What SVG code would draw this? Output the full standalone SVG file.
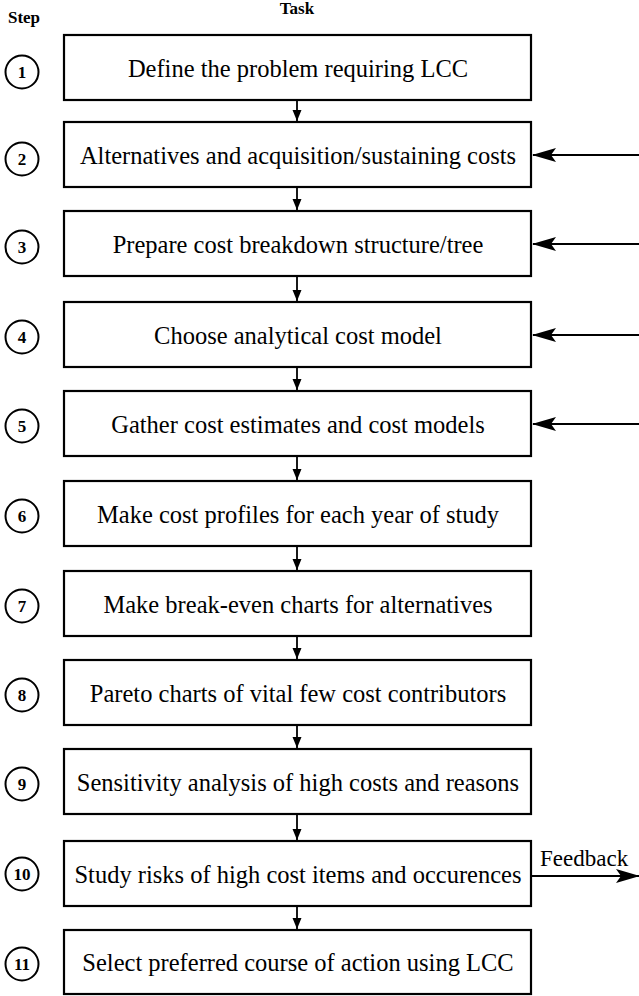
<svg xmlns="http://www.w3.org/2000/svg" width="639" height="996" viewBox="0 0 639 996">
<style>
.box{fill:#fff;stroke:#000;stroke-width:2.2}
.circ{fill:#fff;stroke:#000;stroke-width:2}
text{font-family:"Liberation Serif","Times New Roman","DejaVu Serif",serif;fill:#000}
.t{font-size:24.5px;text-anchor:middle}
.n{font-size:17px;font-weight:bold;text-anchor:middle}
.h{font-size:17px;font-weight:bold;text-anchor:middle}
.c{stroke:#000;stroke-width:1.8;fill:none}
</style>
<defs>
<marker id="a" markerWidth="10" markerHeight="12" refX="5" refY="11" orient="0" markerUnits="userSpaceOnUse"><path d="M0.5,0 L5,11 L9.5,0 Z" fill="#000"/></marker>
<marker id="b" markerWidth="24" markerHeight="14" refX="23" refY="7" orient="auto" markerUnits="userSpaceOnUse"><path d="M0,0 L24,7 L0,14 L5,7 Z" fill="#000"/></marker>
</defs>
<rect width="639" height="996" fill="#fff"/>
<text class="h" x="24" y="23">Step</text>
<text class="h" x="297" y="14">Task</text>
<g id="connectors">
<line class="c" x1="297" y1="100" x2="297" y2="121" marker-end="url(#a)"/>
<line class="c" x1="297" y1="187" x2="297" y2="210" marker-end="url(#a)"/>
<line class="c" x1="297" y1="276" x2="297" y2="301" marker-end="url(#a)"/>
<line class="c" x1="297" y1="367" x2="297" y2="390" marker-end="url(#a)"/>
<line class="c" x1="297" y1="456" x2="297" y2="480" marker-end="url(#a)"/>
<line class="c" x1="297" y1="546" x2="297" y2="570" marker-end="url(#a)"/>
<line class="c" x1="297" y1="636" x2="297" y2="659" marker-end="url(#a)"/>
<line class="c" x1="297" y1="725" x2="297" y2="748" marker-end="url(#a)"/>
<line class="c" x1="297" y1="814" x2="297" y2="840" marker-end="url(#a)"/>
<line class="c" x1="297" y1="906" x2="297" y2="929" marker-end="url(#a)"/>
<line class="c" x1="639" y1="155" x2="533" y2="155" marker-end="url(#b)"/>
<line class="c" x1="639" y1="244" x2="533" y2="244" marker-end="url(#b)"/>
<line class="c" x1="639" y1="335" x2="533" y2="335" marker-end="url(#b)"/>
<line class="c" x1="639" y1="424" x2="533" y2="424" marker-end="url(#b)"/>
<line class="c" x1="531" y1="876" x2="639" y2="876" marker-end="url(#b)"/>
<text x="540" y="866" font-size="23">Feedback</text>
</g>
<g id="step1"><circle class="circ" cx="22" cy="72" r="16.5"/><text class="n" x="22" y="78">1</text><rect class="box" x="64" y="35" width="467" height="65"/><text class="t" x="298" y="77">Define the problem requiring LCC</text></g>
<g id="step2"><circle class="circ" cx="22" cy="159" r="16.5"/><text class="n" x="22" y="165">2</text><rect class="box" x="64" y="122" width="467" height="65"/><text class="t" x="298" y="164">Alternatives and acquisition/sustaining costs</text></g>
<g id="step3"><circle class="circ" cx="22" cy="247" r="16.5"/><text class="n" x="22" y="253">3</text><rect class="box" x="64" y="211" width="467" height="65"/><text class="t" x="298" y="253">Prepare cost breakdown structure/tree</text></g>
<g id="step4"><circle class="circ" cx="22" cy="337" r="16.5"/><text class="n" x="22" y="343">4</text><rect class="box" x="64" y="302" width="467" height="65"/><text class="t" x="298" y="344">Choose analytical cost model</text></g>
<g id="step5"><circle class="circ" cx="22" cy="426" r="16.5"/><text class="n" x="22" y="432">5</text><rect class="box" x="64" y="391" width="467" height="65"/><text class="t" x="298" y="433">Gather cost estimates and cost models</text></g>
<g id="step6"><circle class="circ" cx="22" cy="516" r="16.5"/><text class="n" x="22" y="522">6</text><rect class="box" x="64" y="481" width="467" height="65"/><text class="t" x="298" y="523">Make cost profiles for each year of study</text></g>
<g id="step7"><circle class="circ" cx="22" cy="606" r="16.5"/><text class="n" x="22" y="612">7</text><rect class="box" x="64" y="571" width="467" height="65"/><text class="t" x="298" y="613">Make break-even charts for alternatives</text></g>
<g id="step8"><circle class="circ" cx="22" cy="695" r="16.5"/><text class="n" x="22" y="701">8</text><rect class="box" x="64" y="660" width="467" height="65"/><text class="t" x="298" y="702">Pareto charts of vital few cost contributors</text></g>
<g id="step9"><circle class="circ" cx="22" cy="784" r="16.5"/><text class="n" x="22" y="790">9</text><rect class="box" x="64" y="749" width="467" height="65"/><text class="t" x="298" y="791">Sensitivity analysis of high costs and reasons</text></g>
<g id="step10"><circle class="circ" cx="22" cy="874" r="16.5"/><text class="n" x="22" y="880">10</text><rect class="box" x="64" y="841" width="467" height="65"/><text class="t" x="298" y="883">Study risks of high cost items and occurences</text></g>
<g id="step11"><circle class="circ" cx="22" cy="964" r="16.5"/><text class="n" x="22" y="970">11</text><rect class="box" x="64" y="930" width="467" height="64"/><text class="t" x="298" y="971">Select preferred course of action using LCC</text></g>
</svg>
